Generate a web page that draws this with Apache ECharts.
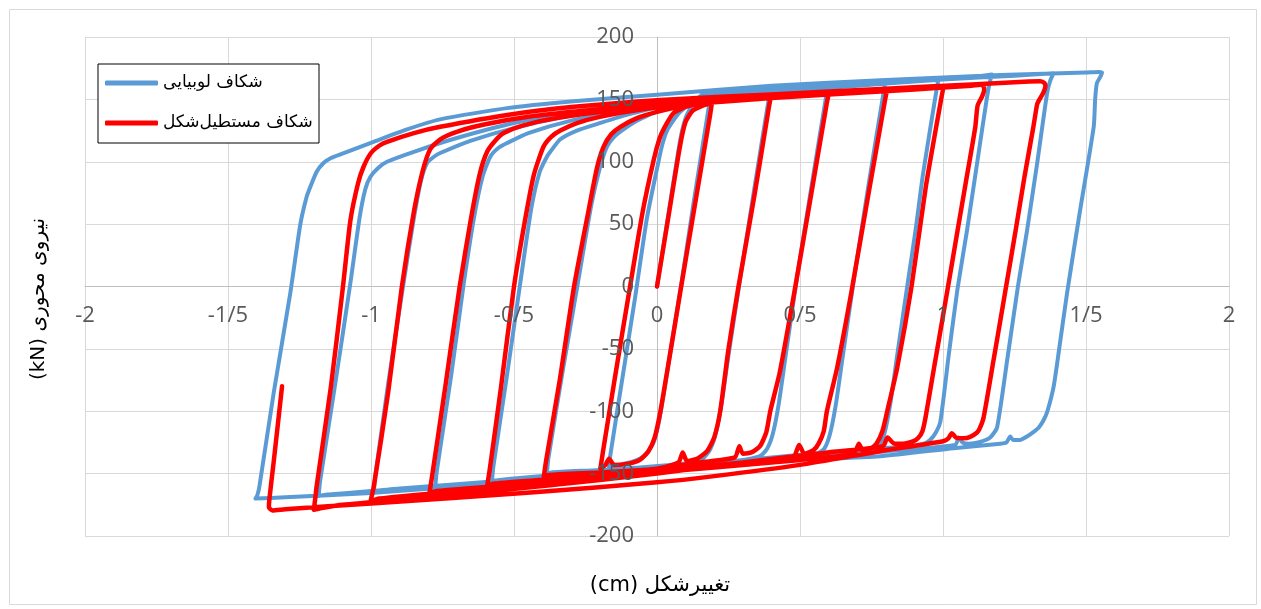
<!DOCTYPE html>
<html>
<head>
<meta charset="utf-8">
<script src="https://cdn.jsdelivr.net/npm/echarts@6/dist/echarts.min.js"></script>
<style>
html,body{margin:0;padding:0;background:#fff;}
#chart{width:1261px;height:609px;}
</style>
</head>
<body>
<div id="chart"></div>
<script>
// ---------- tick labels ----------
const xTickValues = [-2, -1.5, -1, -0.5, 0, 0.5, 1, 1.5, 2];
const xTickLabels = ['-2', '-1/5', '-1', '-0/5', '0', '0/5', '1', '1/5', '2'];
const yTickValues = [-200, -150, -100, -50, 0, 50, 100, 150, 200];
const yTickLabels = ['-200', '-150', '-100', '-50', '0', '50', '100', '150', '200'];

const seriesNames = ['شکاف لوبیایی', 'شکاف مستطیل‌شکل'];
const xTitle = '(cm) تغییرشکل';
const yTitle = '(kN) نیروی محوری';

// ---------- blue series (bean-shaped slot) : [displacement cm, force kN] ----------
const blueInit = [[0,0],[0.04,58],[0.08,116],[0.1,135],[0.13,148],[0.16,154],[0.19,157]];
const blueDown1 = [[0.19,157],[0.184,148],[0.13,70],[0.085,2],[0.04,-62],[0.012,-102],[-0.01,-124],[-0.04,-135],[-0.08,-140],[-0.13,-143],[-0.168,-146]];
const blueUp1 = [[-0.168,-146],[-0.163,-135],[-0.12,-72],[-0.076,-8],[-0.035,55],[0.006,101],[0.02,115],[0.035,125],[0.06,134],[0.081,140],[0.13,149],[0.2,155],[0.3,159],[0.4,161]];
const blueDown2 = [[0.4,161],[0.392,152],[0.34,78],[0.29,5],[0.25,-55],[0.225,-95],[0.205,-118],[0.185,-131],[0.16,-138],[0.12,-141],[0.0,-144],[-0.2,-147],[-0.37,-149],[-0.385,-150]];
const blueUp2 = [[-0.385,-150],[-0.38,-138],[-0.33,-68],[-0.275,5],[-0.23,65],[-0.2,95],[-0.175,112],[-0.15,120],[-0.117,126],[-0.06,134],[0.02,142],[0.12,149],[0.25,155],[0.4,159],[0.6,163]];
const blueDown3 = [[0.6,163],[0.592,153],[0.54,80],[0.49,8],[0.45,-55],[0.425,-95],[0.405,-118],[0.385,-130],[0.36,-136],[0.3,-139],[0.1,-142],[-0.2,-148],[-0.5,-154],[-0.577,-156]];
const blueUp3 = [[-0.577,-156],[-0.572,-144],[-0.525,-72],[-0.478,3],[-0.44,62],[-0.41,92],[-0.385,104],[-0.373,108],[-0.338,118],[-0.28,125],[-0.2,131],[-0.1,138],[0.05,146],[0.2,152],[0.4,157],[0.6,161],[0.8,165]];
const blueDown4 = [[0.8,165],[0.792,155],[0.74,82],[0.69,8],[0.65,-55],[0.625,-95],[0.605,-118],[0.585,-130],[0.56,-134],[0.5,-137],[0.3,-140],[0,-146],[-0.4,-154],[-0.7,-159],[-0.775,-160]];
const blueUp4 = [[-0.775,-160],[-0.77,-148],[-0.72,-72],[-0.676,2],[-0.64,55],[-0.61,88],[-0.583,104],[-0.555,111],[-0.524,115],[-0.45,123],[-0.3,133],[-0.1,142],[0.1,149],[0.3,154],[0.6,160],[0.8,164],[0.985,167]];
const blueDown5 = [[0.985,167],[0.977,157],[0.93,90],[0.904,45],[0.88,8],[0.84,-55],[0.815,-95],[0.795,-118],[0.775,-128],[0.745,-132],[0.65,-135],[0.4,-139],[0,-146],[-0.5,-155],[-0.9,-162],[-0.99,-164]];
const blueUp5 = [[-0.99,-164],[-0.985,-152],[-0.94,-78],[-0.886,3],[-0.85,55],[-0.825,85],[-0.804,99],[-0.78,104],[-0.758,107],[-0.65,117],[-0.5,127],[-0.3,137],[0,147],[0.3,154],[0.6,160],[0.9,165],[1.1,168],[1.171,170]];
const blueDown6 = [[1.171,170],[1.163,163],[1.154,152],[1.12,100],[1.084,45],[1.05,-3],[1.02,-55],[0.991,-108],[0.975,-117],[0.955,-123],[0.932,-126],[0.88,-128],[0.7,-131],[0.4,-137],[0,-146],[-0.5,-156],[-1.0,-164],[-1.16,-167],[-1.183,-168]];
const blueUp6 = [[-1.183,-168],[-1.178,-156],[-1.125,-78],[-1.072,3],[-1.04,55],[-1.02,78],[-1.002,88],[-0.975,95],[-0.944,100],[-0.85,108],[-0.7,119],[-0.5,131],[-0.3,139],[0,147],[0.3,154],[0.7,161],[1.0,166],[1.25,169],[1.387,171]];
const blueDown7 = [[1.387,171],[1.375,165],[1.364,155],[1.33,100],[1.294,45],[1.262,0],[1.225,-58],[1.189,-113],[1.165,-121],[1.13,-124.5],[1.09,-126],[1.068,-125],[1.055,-121],[1.043,-127],[0.8,-132],[0.4,-139],[0,-147],[-0.5,-157],[-1.0,-165.5],[-1.3,-169],[-1.404,-170]];
const blueUp7 = [[-1.404,-170],[-1.397,-167],[-1.39,-160],[-1.34,-85],[-1.282,-5],[-1.247,50],[-1.225,72],[-1.212,80],[-1.19,92],[-1.166,99],[-1.14,103],[-1.107,106],[-0.991,116],[-0.874,126],[-0.758,134],[-0.524,143],[-0.29,148.5],[0.012,154],[0.4,161],[0.8,165.5],[1.2,169.5],[1.5,171.5],[1.545,172],[1.556,171.5]];
const blueDown8 = [[1.556,171.5],[1.55,168],[1.538,163],[1.532,150],[1.527,128],[1.48,62],[1.434,-5],[1.405,-52],[1.387,-80],[1.365,-100],[1.352,-107],[1.335,-113],[1.317,-116.5],[1.295,-120],[1.27,-123],[1.245,-123],[1.235,-120.3],[1.222,-125],[1.2,-126],[1.037,-129.6],[0.781,-136],[0.5,-139],[0.2,-143],[-0.1,-148],[-0.4,-153]];

// ---------- red series (rectangular slot) ----------
const redInit = [[0,0],[0.04,56],[0.08,112],[0.1,132],[0.125,141],[0.16,145],[0.192,147]];
const redDown1 = [[0.192,147],[0.186,138],[0.13,62],[0.081,-5],[0.04,-62],[0.012,-100],[-0.008,-121],[-0.03,-132],[-0.06,-139],[-0.1,-142],[-0.15,-143],[-0.168,-138],[-0.18,-143],[-0.198,-146]];
const redUp1 = [[-0.198,-146],[-0.19,-134],[-0.145,-70],[-0.1,-8],[-0.05,60],[-0.012,101],[0.008,118],[0.025,127],[0.058,139],[0.1,144],[0.16,147],[0.25,149],[0.33,150],[0.397,151]];
const redDown2 = [[0.397,151],[0.39,142],[0.34,72],[0.285,0],[0.25,-50],[0.221,-100],[0.2,-121],[0.175,-132],[0.14,-138],[0.105,-140],[0.09,-133],[0.075,-141],[0.0,-146],[-0.2,-149],[-0.38,-151],[-0.396,-153]];
const redUp2 = [[-0.396,-153],[-0.388,-140],[-0.34,-75],[-0.29,0],[-0.24,60],[-0.21,95],[-0.187,112],[-0.16,122],[-0.128,128],[-0.07,135],[0,140],[0.1,145],[0.25,149],[0.42,152],[0.6,154]];
const redDown3 = [[0.6,154],[0.593,146],[0.54,75],[0.48,-5],[0.43,-68],[0.396,-100],[0.382,-117],[0.36,-128],[0.33,-133],[0.3,-134],[0.288,-128],[0.272,-137],[0.15,-141],[0,-146],[-0.3,-153],[-0.57,-158],[-0.594,-160]];
const redUp3 = [[-0.594,-160],[-0.585,-147],[-0.545,-80],[-0.5,0],[-0.46,55],[-0.43,90],[-0.397,112],[-0.37,120],[-0.338,125],[-0.28,131],[-0.2,136],[-0.05,142],[0.15,147],[0.4,151],[0.6,154],[0.804,157]];
const redDown4 = [[0.804,157],[0.797,149],[0.74,75],[0.677,-8],[0.63,-65],[0.594,-100],[0.583,-116],[0.565,-126],[0.548,-131],[0.515,-134],[0.497,-127],[0.478,-136],[0.3,-141],[0,-148],[-0.4,-157],[-0.77,-164],[-0.796,-166]];
const redUp4 = [[-0.796,-166],[-0.787,-153],[-0.74,-80],[-0.69,0],[-0.65,55],[-0.62,90],[-0.594,108],[-0.565,117],[-0.536,123],[-0.47,129],[-0.35,135],[-0.15,141],[0.1,146],[0.4,151],[0.7,156],[1.002,160]];
const redDown5 = [[1.002,160],[0.995,152],[0.94,80],[0.89,0],[0.84,-65],[0.805,-100],[0.788,-116],[0.767,-126],[0.745,-130],[0.72,-132],[0.706,-126],[0.688,-134],[0.5,-139],[0.2,-145],[-0.2,-153],[-0.6,-162],[-0.97,-170],[-1.002,-172.5]];
const redUp5 = [[-1.002,-172.5],[-0.99,-160],[-0.94,-85],[-0.892,0],[-0.85,60],[-0.82,92],[-0.793,110],[-0.758,118],[-0.7,124],[-0.6,130],[-0.45,136],[-0.25,141],[0,146],[0.3,150],[0.6,154],[0.9,158],[1.1,161],[1.13,161.8],[1.142,160.5],[1.144,157.8]];
const redDown6 = [[1.144,157.8],[1.136,152],[1.121,145],[1.113,128],[1.081,85],[1.051,45],[1.014,-5],[0.965,-70],[0.939,-105],[0.928,-116],[0.913,-121.5],[0.897,-124],[0.86,-126],[0.83,-126],[0.806,-121],[0.79,-128],[0.6,-133],[0.3,-141],[0,-150],[-0.4,-160],[-0.8,-169],[-1.1,-175],[-1.18,-178],[-1.2,-179]];
const redUp6 = [[-1.2,-179],[-1.195,-170],[-1.19,-160],[-1.14,-80],[-1.098,0],[-1.072,53],[-1.045,83],[-1.026,96],[-1.0,107],[-0.97,113],[-0.944,116],[-0.85,123],[-0.758,128],[-0.524,137.5],[-0.29,144],[0.012,149.5],[0.4,154],[0.8,158.5],[1.1,162],[1.3,164.3],[1.34,164.5],[1.355,163],[1.358,160.5]];
const redDown7 = [[1.358,160.5],[1.35,155],[1.335,149],[1.329,146],[1.316,128],[1.285,88],[1.254,45],[1.217,-5],[1.176,-60],[1.142,-105],[1.128,-114],[1.119,-117],[1.095,-120.5],[1.072,-121.6],[1.045,-121],[1.031,-117.6],[1.018,-122],[1.0,-124],[0.78,-132],[0.5,-143],[0.2,-152],[0,-157],[-0.43,-165],[-1.0,-174],[-1.3,-178.5],[-1.345,-179.5],[-1.357,-177]];
const redUp7 = [[-1.357,-177],[-1.355,-170],[-1.34,-140],[-1.311,-80]];

const blueData = [].concat(blueInit, blueDown1, blueUp1, blueDown2, blueUp2, blueDown3, blueUp3, blueDown4, blueUp4, blueDown5, blueUp5, blueDown6, blueUp6, blueDown7, blueUp7, blueDown8);
const redData = [].concat(redInit, redDown1, redUp1, redDown2, redUp2, redDown3, redUp3, redDown4, redUp4, redDown5, redUp5, redDown6, redUp6, redDown7, redUp7);

function tickLabel(values, labels, v) {
  for (let i = 0; i < values.length; i++) {
    if (Math.abs(values[i] - v) < 1e-6) return labels[i];
  }
  return '';
}

const chart = echarts.init(document.getElementById('chart'), null, {renderer: 'canvas'});
const labelFont = '"Open Sans", "DejaVu Sans", sans-serif';
const arabicFont = '"DejaVu Sans", "Noto Sans", sans-serif';

// plot area: x from 85 to 1229, y from 37 to 536; zero lines cross at (657, 286.5)
const X_OFFSET = -249.5;  // moves the x axis up to the y = 0 line
const Y_OFFSET = -572;    // moves the y axis right to the x = 0 line

chart.setOption({
  animation: false,
  backgroundColor: '#ffffff',
  grid: {left: 85, right: 32, top: 37, bottom: 73, containLabel: false},
  xAxis: [
    { // gridlines + zero line (under the series)
      type: 'value', min: -2, max: 2, interval: 0.5,
      position: 'bottom', offset: X_OFFSET, z: 0,
      axisLine: {show: true, onZero: false, lineStyle: {color: '#BFBFBF', width: 1}},
      axisTick: {show: false},
      splitLine: {show: true, lineStyle: {color: '#D9D9D9', width: 1}},
      axisLabel: {show: false}
    },
    { // tick labels (drawn above the series, on an upper layer)
      type: 'value', min: -2, max: 2, interval: 0.5,
      position: 'bottom', offset: X_OFFSET, zlevel: 1, z: 10,
      axisLine: {show: false}, axisTick: {show: false}, splitLine: {show: false},
      axisLabel: {
        margin: 18, color: '#595959', fontSize: 22, fontFamily: labelFont,
        formatter: v => tickLabel(xTickValues, xTickLabels, v)
      }
    }
  ],
  yAxis: [
    {
      type: 'value', min: -200, max: 200, interval: 50,
      position: 'left', offset: Y_OFFSET, z: 0,
      axisLine: {show: true, onZero: false, lineStyle: {color: '#BFBFBF', width: 1}},
      axisTick: {show: false},
      splitLine: {show: true, lineStyle: {color: '#D9D9D9', width: 1}},
      axisLabel: {show: false}
    },
    {
      type: 'value', min: -200, max: 200, interval: 50,
      position: 'left', offset: Y_OFFSET, zlevel: 1, z: 10,
      axisLine: {show: false}, axisTick: {show: false}, splitLine: {show: false},
      axisLabel: {
        margin: 23, color: '#595959', fontSize: 22, fontFamily: labelFont,
        formatter: v => tickLabel(yTickValues, yTickLabels, v)
      }
    }
  ],
  legend: {
    orient: 'vertical', left: 98, top: 64, zlevel: 1, z: 12,
    backgroundColor: '#ffffff',
    borderColor: '#000', borderWidth: 1,
    padding: [7, 5, 8, 7], itemGap: 16,
    itemWidth: 53, itemHeight: 5, icon: 'roundRect',
    textStyle: {fontSize: 17, color: '#000', fontFamily: arabicFont, lineHeight: 24, width: 151},
    data: seriesNames
  },
  graphic: [
    {type: 'rect', left: 7, top: 7, shape: {width: 1247, height: 595}, style: {fill: 'none', stroke: '#D9D9D9', lineWidth: 1}, silent: true},
    {type: 'text', x: 660, y: 586, style: {text: xTitle, fill: '#000', font: '21px "DejaVu Sans", sans-serif', align: 'center', verticalAlign: 'middle'}},
    {type: 'text', x: 39, y: 299, rotation: Math.PI / 2, style: {text: yTitle, fill: '#000', font: '20px "DejaVu Sans", sans-serif', align: 'center', verticalAlign: 'middle'}}
  ],
  series: [
    {
      name: seriesNames[0], type: 'line', data: blueData,
      xAxisIndex: 0, yAxisIndex: 0,
      showSymbol: false, symbol: 'none', smooth: 0.2,
      lineStyle: {color: '#5B9BD5', width: 4, cap: 'round', join: 'round'},
      itemStyle: {color: '#5B9BD5'}, z: 2
    },
    {
      name: seriesNames[1], type: 'line', data: redData,
      xAxisIndex: 0, yAxisIndex: 0,
      showSymbol: false, symbol: 'none', smooth: 0.2,
      lineStyle: {color: '#FF0000', width: 4.5, cap: 'round', join: 'round'},
      itemStyle: {color: '#FF0000'}, z: 3
    }
  ]
});
</script>
</body>
</html>
